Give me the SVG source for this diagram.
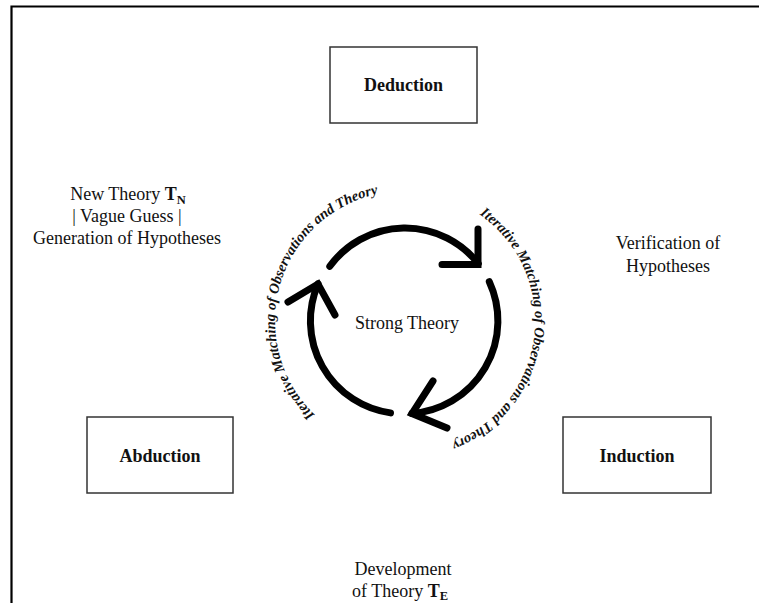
<svg xmlns="http://www.w3.org/2000/svg" width="759" height="603" viewBox="0 0 759 603">
  <style>
    text { font-family: 'Liberation Serif', 'DejaVu Serif', 'Times New Roman', serif; }
    .frame { stroke: #000; stroke-width: 2.2; fill: none; }
    .box { fill: #fff; stroke: #333; stroke-width: 1.5; }
    .label { font-size: 18px; fill: #111; text-anchor: middle; }
    .boxlabel { font-size: 18px; font-weight: bold; fill: #111; text-anchor: middle; }
    .sub { font-weight: bold; font-size: 12.5px; }
    .bold { font-weight: bold; }
    .cycle { fill: none; stroke: #000; stroke-width: 7; stroke-linecap: round; stroke-linejoin: miter; }
    .arc-label { font-size: 14.5px; font-weight: bold; font-style: italic; fill: #111; }
  </style>
  <defs>
    <!-- baselines for the curved captions, clockwise around the cycle centre -->
    <path id="leftArc" d="M 391.4 450.3 A 130 130 0 1 1 462.0 204.2"/>
    <path id="rightArc" d="M 398.2 191.2 A 130 130 0 1 1 367.0 445.3"/>
  </defs>

  <rect width="759" height="603" fill="#fff"/>

  <!-- outer frame (top and left edges) -->
  <path class="frame" d="M 11.5 603 L 11.5 6.5 L 759 6.5"/>

  <!-- nodes -->
  <g id="deduction">
    <rect class="box" x="330" y="47" width="147" height="76"/>
    <text class="boxlabel" x="403.5" y="91" font-family="Liberation Serif">Deduction</text>
  </g>
  <g id="abduction">
    <rect class="box" x="87" y="417" width="146" height="76"/>
    <text class="boxlabel" x="160" y="462" font-family="Liberation Serif">Abduction</text>
  </g>
  <g id="induction">
    <rect class="box" x="563" y="417" width="148" height="76"/>
    <text class="boxlabel" x="637" y="462" font-family="Liberation Serif">Induction</text>
  </g>
  <g id="strong-theory">
    <text class="label" x="407" y="329" font-family="Liberation Serif">Strong Theory</text>
  </g>

  <!-- free captions -->
  <g id="new-theory">
    <text class="label" x="128" y="200" font-family="Liberation Serif">New Theory <tspan class="bold">T</tspan><tspan class="sub" dy="4">N</tspan></text>
    <text class="label" x="127" y="222" font-family="Liberation Serif">| Vague Guess |</text>
    <text class="label" x="127" y="244" font-family="Liberation Serif">Generation of Hypotheses</text>
  </g>
  <g id="verification">
    <text class="label" x="668" y="249" font-family="Liberation Serif">Verification of</text>
    <text class="label" x="668" y="272" font-family="Liberation Serif">Hypotheses</text>
  </g>
  <g id="development">
    <text class="label" x="403" y="575" font-family="Liberation Serif">Development</text>
    <text class="label" x="400" y="597" font-family="Liberation Serif">of Theory <tspan class="bold">T</tspan><tspan class="sub" dy="3">E</tspan></text>
  </g>

  <!-- connectors: three clockwise arcs with open arrowheads -->
  <g id="connectors">
    <path class="cycle" d="M 329.8 266.3 A 93 93 0 0 1 478.3 263.7"/>
    <path class="cycle" d="M 478 229 L 478 264.5 L 442 264.5"/>

    <path class="cycle" d="M 489.3 281.7 A 93 93 0 0 1 412 413.5"/>
    <path class="cycle" d="M 433 381 L 412 413.5 L 447 428"/>

    <path class="cycle" d="M 390.5 412.9 A 93 93 0 0 1 318 284"/>
    <path class="cycle" d="M 288 302 L 318 284 L 335 315"/>

    <text class="arc-label" font-family="Liberation Serif"><textPath href="#leftArc" startOffset="50%" text-anchor="middle">Iterative Matching of Observations and Theory</textPath></text>
    <text class="arc-label" font-family="Liberation Serif"><textPath href="#rightArc" startOffset="50%" text-anchor="middle">Iterative Matching of Observations and Theory</textPath></text>
  </g>
</svg>
